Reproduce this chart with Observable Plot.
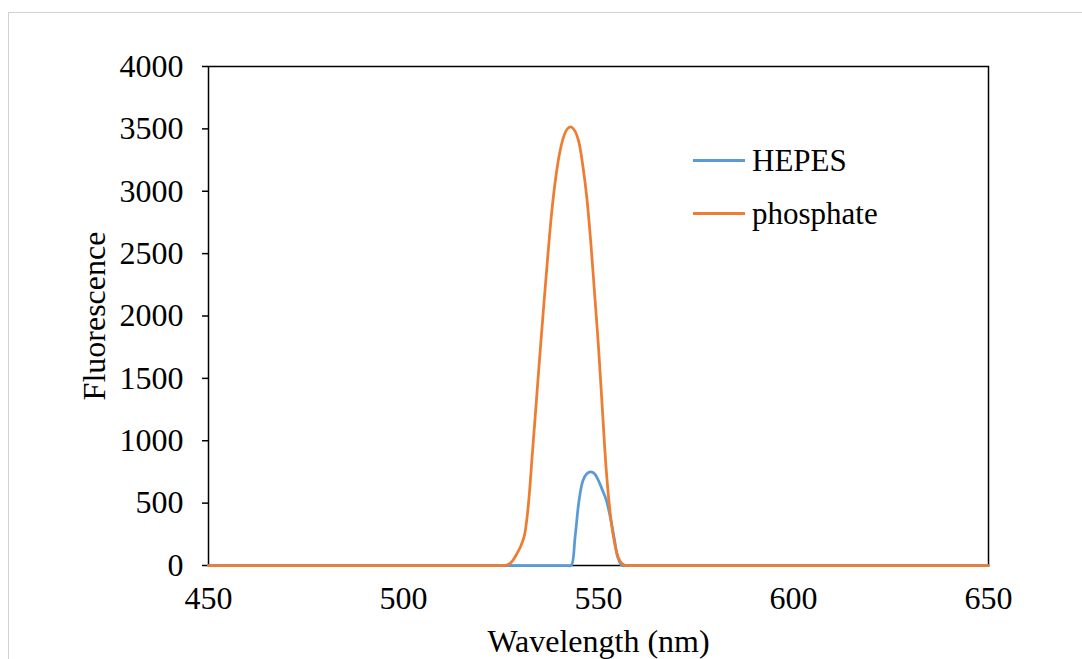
<!DOCTYPE html>
<html>
<head>
<meta charset="utf-8">
<script src="https://cdn.jsdelivr.net/npm/d3@7"></script>
<script src="https://cdn.jsdelivr.net/npm/@observablehq/plot@0.6"></script>
<style>
  html, body { margin: 0; padding: 0; background: #fff; }
  #wrap { position: relative; width: 1082px; height: 659px; overflow: hidden; background: #fff; }
  #border { position: absolute; left: 8px; top: 12px; width: 1090px; height: 700px; border: 1px solid #d0d0d0; box-sizing: border-box; }
  #chart { position: absolute; left: 0; top: 0; }
  .legend { position: absolute; left: 693px; top: 134px; font-family: "Liberation Serif", "Times New Roman", serif; font-size: 31px; color: #000; }
  .legend .item { display: flex; align-items: center; height: 53px; }
  .legend .sw { width: 52px; height: 3px; margin-right: 7px; }
</style>
</head>
<body>
<div id="wrap">
  <div id="border"></div>
  <div id="chart"></div>
  <div class="legend" id="legend"></div>
</div>
<script>
// Data
const seriesNames = ["HEPES", "phosphate"];
const seriesColors = ["#5B9BD5", "#ED7D31"];

const hepesWavelength = [450, 451, 452, 540, 541, 542, 543, 544, 545, 546, 547, 548, 549, 550, 551, 552, 553, 554, 555, 556, 557, 558, 648, 649, 650];
const hepesFluorescence = [0, 0, 0, 0, 0, 0, 0, 230, 520, 680, 735, 750, 735, 680, 605, 525, 390, 225, 60, 0, 0, 0, 0, 0, 0];

const phosphateWavelength = [450, 451, 452, 523, 524, 525, 526, 527, 528, 529, 530, 531, 532, 533, 534, 535, 536, 537, 538, 539, 540, 541, 542, 543, 544, 545, 546, 547, 548, 549, 550, 551, 552, 553, 554, 555, 556, 557, 558, 559, 648, 649, 650];
const phosphateFluorescence = [0, 0, 0, 0, 0, 0, 0, 10, 40, 90, 150, 240, 480, 880, 1290, 1700, 2100, 2480, 2830, 3100, 3300, 3430, 3500, 3515, 3480, 3390, 3200, 2950, 2600, 2180, 1750, 1250, 760, 420, 200, 70, 15, 0, 0, 0, 0, 0, 0];

const xTicks = [450, 500, 550, 600, 650];
const yTicks = [0, 500, 1000, 1500, 2000, 2500, 3000, 3500, 4000];

const hepes = hepesWavelength.map((w, i) => ({w, f: hepesFluorescence[i], s: seriesNames[0]}));
const phosphate = phosphateWavelength.map((w, i) => ({w, f: phosphateFluorescence[i], s: seriesNames[1]}));

const font = '"Liberation Serif", "Times New Roman", serif';

const chart = Plot.plot({
  width: 1082,
  height: 659,
  marginLeft: 208,
  marginRight: 94,
  marginTop: 66,
  marginBottom: 94,
  style: { fontFamily: font, fontSize: "32px", color: "#000", background: "transparent", overflow: "visible" },
  x: { domain: [450, 650] },
  y: { domain: [0, 4000] },
  marks: [
    Plot.frame({ stroke: "#000", strokeWidth: 1.5 }),
    Plot.axisY({ ticks: yTicks, tickSize: 6, tickPadding: 19, tickFormat: d => String(d),
      label: "Fluorescence", labelAnchor: "center", labelArrow: "none", labelOffset: 126, strokeWidth: 1.5 }),
    Plot.axisX({ ticks: xTicks, tickSize: 0, tickPadding: 21, tickFormat: d => String(d),
      label: "Wavelength (nm)", labelAnchor: "center", labelArrow: "none", labelOffset: 86 }),
    Plot.line(hepes, { x: "w", y: "f", stroke: seriesColors[0], strokeWidth: 2.75, curve: "catmull-rom" }),
    Plot.line(phosphate, { x: "w", y: "f", stroke: seriesColors[1], strokeWidth: 2.75, curve: "catmull-rom" })
  ]
});
document.getElementById("chart").appendChild(chart);

const legend = document.getElementById("legend");
seriesNames.forEach((n, i) => {
  const item = document.createElement("div");
  item.className = "item";
  const sw = document.createElement("div");
  sw.className = "sw";
  sw.style.background = seriesColors[i];
  const t = document.createElement("span");
  t.textContent = n;
  item.appendChild(sw);
  item.appendChild(t);
  legend.appendChild(item);
});
</script>
</body>
</html>
